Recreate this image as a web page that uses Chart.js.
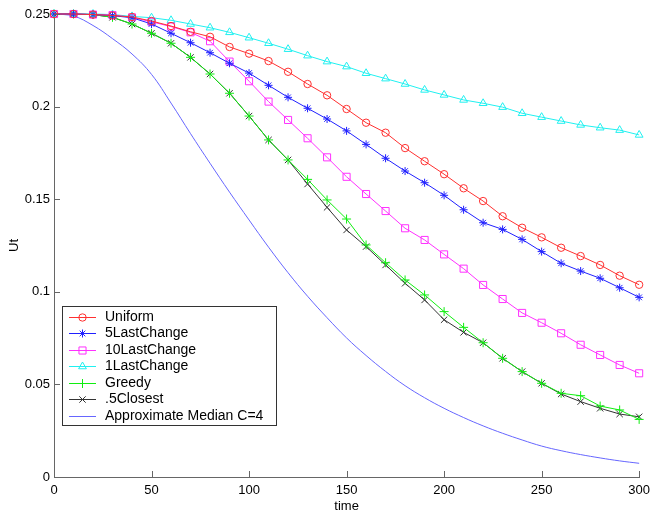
<!DOCTYPE html>
<html lang="en">
<head>
    <meta charset="UTF-8">
    <title>Ut over time</title>
    <script src="https://cdn.jsdelivr.net/npm/chart.js@4.4.0/dist/chart.umd.min.js"></script>
    <style>
        html, body { margin: 0; padding: 0; background: #fff; }
        #wrap { width: 656px; height: 513px; }
    </style>
</head>
<body>
    <div id="wrap"><canvas id="chart" width="656" height="513"></canvas></div>
    <script>
        const time = [0, 10, 20, 30, 40, 50, 60, 70, 80, 90, 100, 110, 120, 130, 140, 150,
                      160, 170, 180, 190, 200, 210, 220, 230, 240, 250, 260, 270, 280, 290, 300];

        const uniform = [0.25, 0.25, 0.2497, 0.2492, 0.2484, 0.2462, 0.2435, 0.2404, 0.2377, 0.2322,
                         0.2286, 0.2246, 0.2188, 0.2122, 0.2061, 0.1987, 0.1913, 0.1859, 0.1776, 0.1705,
                         0.1635, 0.1559, 0.1490, 0.1408, 0.1346, 0.1294, 0.1238, 0.1193, 0.1145, 0.1087, 0.1038];
        const last5 = [0.25, 0.25, 0.2497, 0.2491, 0.2480, 0.2446, 0.2396, 0.2345, 0.2291, 0.2234,
                       0.2181, 0.2115, 0.2050, 0.1991, 0.1933, 0.1869, 0.1796, 0.1721, 0.1652, 0.1589,
                       0.1521, 0.1443, 0.1373, 0.1337, 0.1283, 0.1217, 0.1154, 0.1112, 0.1073, 0.1022, 0.0970];
        const last10 = [0.25, 0.25, 0.2497, 0.2494, 0.2482, 0.2458, 0.2432, 0.2401, 0.2353, 0.2243,
                        0.2137, 0.2027, 0.1928, 0.1829, 0.1726, 0.1621, 0.1528, 0.1436, 0.1343, 0.1280,
                        0.1202, 0.1125, 0.1037, 0.0961, 0.0886, 0.0833, 0.0776, 0.0714, 0.0659, 0.0605, 0.0560];
        const last1 = [0.25, 0.25, 0.25, 0.2497, 0.2487, 0.2480, 0.2466, 0.2446, 0.2426, 0.2401,
                       0.2372, 0.2342, 0.2310, 0.2275, 0.2243, 0.2216, 0.2180, 0.2151, 0.2122, 0.2090,
                       0.2063, 0.2036, 0.2018, 0.1997, 0.1964, 0.1943, 0.1922, 0.1901, 0.1886, 0.1873, 0.1847];
        const greedy = [0.25, 0.25, 0.2497, 0.2482, 0.2446, 0.2396, 0.2342, 0.2266, 0.2176, 0.2072,
                        0.1949, 0.1820, 0.1712, 0.1607, 0.1496, 0.1393, 0.1253, 0.1157, 0.1064, 0.0983,
                        0.0893, 0.0808, 0.0725, 0.0641, 0.0569, 0.0506, 0.0452, 0.0439, 0.0383, 0.0362, 0.0311];
        const closest5 = [0.25, 0.25, 0.2497, 0.2482, 0.2446, 0.2396, 0.2342, 0.2266, 0.2176, 0.2072,
                          0.1949, 0.1820, 0.1712, 0.1582, 0.1456, 0.1334, 0.1244, 0.1145, 0.1046, 0.0956,
                          0.0849, 0.0781, 0.0725, 0.0641, 0.0569, 0.0506, 0.0448, 0.0407, 0.0371, 0.0340, 0.0325];
        const approxMedian = [0.25, 0.2489, 0.2438, 0.2367, 0.2284, 0.2174, 0.2019, 0.1854, 0.1694, 0.1538,
                              0.1388, 0.1241, 0.1103, 0.0976, 0.0860, 0.0751, 0.0656, 0.0570, 0.0493, 0.0428,
                              0.0371, 0.0321, 0.0276, 0.0236, 0.0200, 0.0167, 0.0142, 0.0121, 0.0103, 0.0087, 0.0074];

        const xTicks = [0, 50, 100, 150, 200, 250, 300];
        const xTickLabels = ['0', '50', '100', '150', '200', '250', '300'];
        const yTicks = [0, 0.05, 0.1, 0.15, 0.2, 0.25];
        const yTickLabels = ['0', '0.05', '0.1', '0.15', '0.2', '0.25'];

        const FONT = '"Liberation Sans", Arial, Helvetica, sans-serif';
        const AXIS = '#666666';

        const pts = ys => time.map((t, i) => ({ x: t, y: ys[i] }));

        const series = (label, ys, color, style, radius) => ({
            label,
            data: pts(ys),
            borderColor: color,
            backgroundColor: 'rgba(0,0,0,0)',
            borderWidth: 1,
            pointStyle: style,
            pointRadius: style ? radius : 0,
            pointBorderColor: color,
            pointBackgroundColor: 'rgba(0,0,0,0)',
            pointBorderWidth: 1,
            tension: 0,
            clip: false
        });

        const datasets = [
            series('Uniform', uniform, '#ff3030', 'circle', 3.7),
            series('5LastChange', last5, '#2020ff', 'star', 4),
            series('10LastChange', last10, '#ff30ff', 'rect', 5),
            series('1LastChange', last1, '#20f0f0', 'triangle', 4.5),
            series('Greedy', greedy, '#10ee10', 'cross', 4.5),
            series('.5Closest', closest5, '#333333', 'crossRot', 4.5),
            series('Approximate Median C=4', approxMedian, '#6666ff', false, 0)
        ];
        datasets[6].tension = 0.4;

        // ticks pointing into the plot, like the original
        const innerTicks = {
            id: 'innerTicks',
            afterDraw(chart) {
                const { ctx, chartArea: a, scales: { x, y } } = chart;
                ctx.save();
                ctx.strokeStyle = AXIS;
                ctx.lineWidth = 1;
                ctx.beginPath();
                xTicks.forEach(v => {
                    const px = Math.round(x.getPixelForValue(v)) + 0.5;
                    ctx.moveTo(px, a.bottom);
                    ctx.lineTo(px, a.bottom - 6);
                });
                yTicks.forEach(v => {
                    const py = Math.round(y.getPixelForValue(v)) + 0.5;
                    ctx.moveTo(a.left, py);
                    ctx.lineTo(a.left + 6, py);
                });
                ctx.stroke();
                ctx.restore();
            }
        };

        // legend box inside the plot, lower left
        const boxLegend = {
            id: 'boxLegend',
            afterDraw(chart) {
                const ctx = chart.ctx;
                const bx = 62, by = 306, bw = 214, bh = 119;
                ctx.save();
                ctx.fillStyle = '#fff';
                ctx.fillRect(bx, by, bw, bh);
                ctx.strokeStyle = '#333';
                ctx.lineWidth = 1;
                ctx.strokeRect(bx + 0.5, by + 0.5, bw, bh);
                chart.data.datasets.forEach((ds, i) => {
                    const cy = by + 10.5 + i * 16.5;
                    ctx.strokeStyle = ds.borderColor;
                    ctx.lineWidth = 1;
                    ctx.beginPath();
                    ctx.moveTo(69, Math.round(cy) + 0.5);
                    ctx.lineTo(96, Math.round(cy) + 0.5);
                    ctx.stroke();
                    if (ds.pointStyle && Chart.helpers && Chart.helpers.drawPoint) {
                        ctx.fillStyle = 'rgba(0,0,0,0)';
                        Chart.helpers.drawPoint(ctx, {
                            pointStyle: ds.pointStyle,
                            radius: ds.pointRadius,
                            rotation: 0,
                            borderWidth: 1
                        }, 82.5, Math.round(cy) + 0.5);
                    }
                    ctx.fillStyle = '#000';
                    ctx.font = '14px ' + FONT;
                    ctx.textBaseline = 'middle';
                    ctx.textAlign = 'left';
                    ctx.fillText(ds.label, 105, cy + 0.5);
                });
                ctx.restore();
            }
        };

        new Chart(document.getElementById('chart'), {
            type: 'line',
            data: { datasets },
            plugins: [innerTicks, boxLegend],
            options: {
                responsive: false,
                animation: false,
                events: [],
                layout: { padding: { top: 14, right: 14, left: 0, bottom: 0 } },
                plugins: { legend: { display: false }, tooltip: { enabled: false } },
                scales: {
                    x: {
                        type: 'linear',
                        min: 0,
                        max: 300,
                        afterBuildTicks: s => { s.ticks = xTicks.map(v => ({ value: v })); },
                        afterFit: s => { s.height = 36; },
                        grid: { display: false, drawTicks: false },
                        border: { display: true, color: AXIS, width: 1 },
                        ticks: {
                            padding: 6,
                            color: '#000',
                            font: { family: FONT, size: 13 },
                            maxRotation: 0,
                            callback: (v, i) => xTickLabels[i]
                        },
                        title: {
                            display: true,
                            text: 'time',
                            color: '#000',
                            font: { family: FONT, size: 13 },
                            padding: { top: 0, bottom: -1 }
                        }
                    },
                    y: {
                        type: 'linear',
                        min: 0,
                        max: 0.25,
                        afterBuildTicks: s => { s.ticks = yTicks.map(v => ({ value: v })); },
                        afterFit: s => { s.width = 54; },
                        grid: { display: false, drawTicks: false },
                        border: { display: true, color: AXIS, width: 1 },
                        ticks: {
                            padding: 4,
                            color: '#000',
                            font: { family: FONT, size: 13 },
                            callback: (v, i) => yTickLabels[i]
                        },
                        title: {
                            display: true,
                            text: 'Ut',
                            color: '#000',
                            font: { family: FONT, size: 13 },
                            padding: { top: 7, bottom: 0 }
                        }
                    }
                }
            }
        });
    </script>
</body>
</html>
